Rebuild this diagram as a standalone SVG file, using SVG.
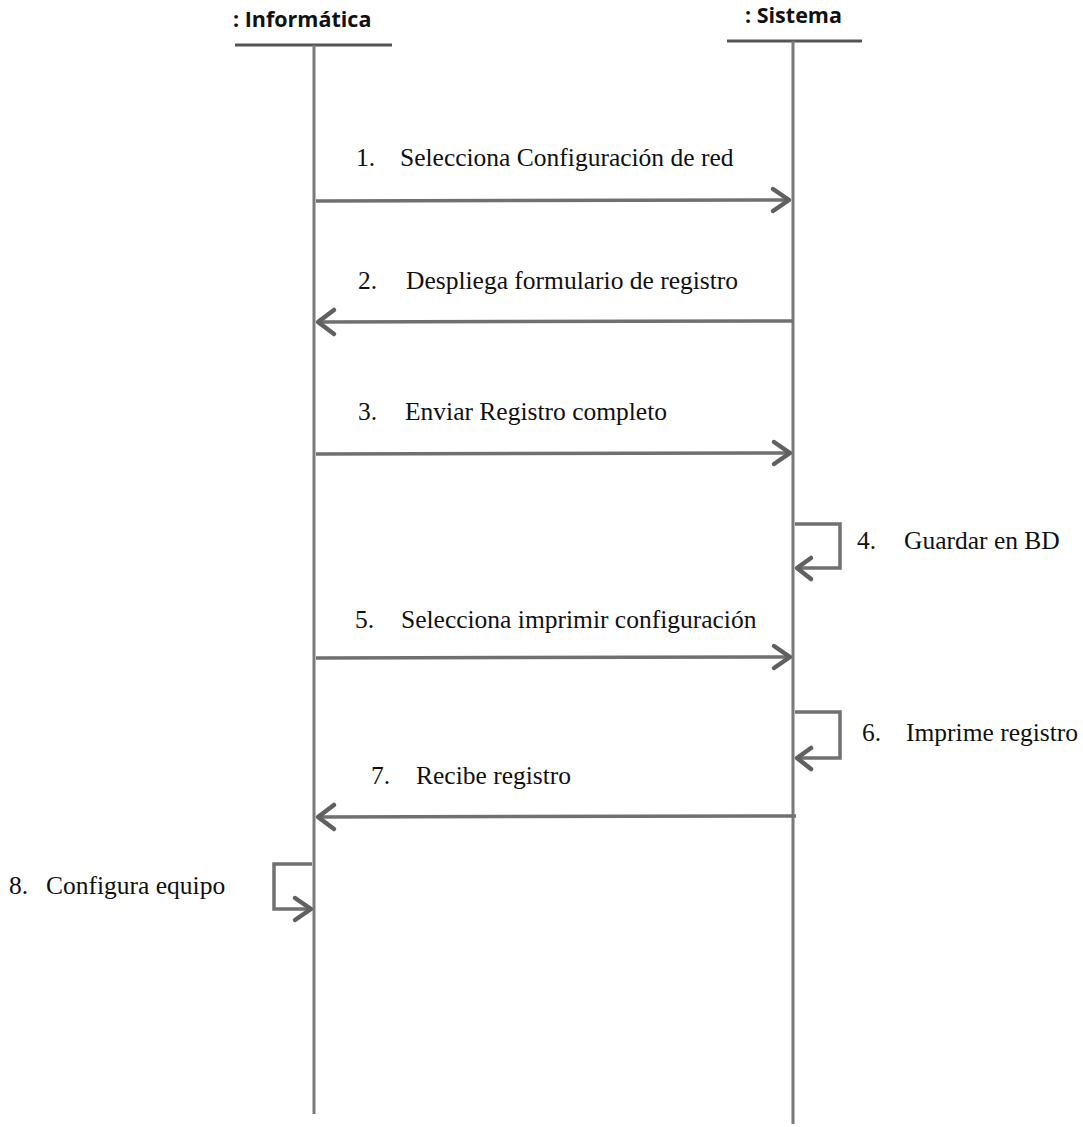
<svg xmlns="http://www.w3.org/2000/svg" width="1083" height="1127" viewBox="0 0 1083 1127">
<defs>
<style>
.ll{stroke:#7a7a7a;stroke-width:3;fill:none}
.bar{stroke:#555;stroke-width:3}
.msg{stroke:#707070;stroke-width:3.5;fill:none}
.hd{stroke:#606060;stroke-width:4.5;fill:none;stroke-linecap:round;stroke-linejoin:round}
.t{font-family:"Liberation Serif","Times New Roman",serif;font-size:25.5px;fill:#111}
.h{font-family:"Open Sans","Liberation Sans",sans-serif;font-size:21.5px;font-weight:bold;fill:#111}
</style>
</defs>
<rect width="1083" height="1127" fill="#fff"/>
<g id="informatica">
<text class="h" x="233" y="27">: Informática</text>
<line class="bar" x1="235" y1="45" x2="392" y2="45"/>
<line class="ll" x1="314" y1="45" x2="314" y2="1114"/>
</g>
<g id="sistema">
<text class="h" x="745" y="23">: Sistema</text>
<line class="bar" x1="727" y1="41" x2="862" y2="41"/>
<line class="ll" x1="793" y1="41" x2="793" y2="1124"/>
</g>
<g id="connectors">
<g id="m1"><line class="msg" x1="316" y1="201" x2="789" y2="200"/><polyline class="hd" points="773,189 789,200 773,211"/></g>
<g id="m2"><line class="msg" x1="793" y1="321" x2="318" y2="322"/><polyline class="hd" points="334,310 318,322 334,334"/></g>
<g id="m3"><line class="msg" x1="316" y1="454" x2="790" y2="453"/><polyline class="hd" points="774,442 790,453 774,464"/></g>
<g id="m4"><polyline class="msg" points="795,524 840,524 840,568 797,568"/><polyline class="hd" points="811,558 797,568 811,579"/></g>
<g id="m5"><line class="msg" x1="316" y1="658" x2="790" y2="657"/><polyline class="hd" points="774,646 790,657 774,668"/></g>
<g id="m6"><polyline class="msg" points="795,712 840,712 840,758 797,758"/><polyline class="hd" points="811,748 797,758 811,769"/></g>
<g id="m7"><line class="msg" x1="796" y1="816" x2="318" y2="817"/><polyline class="hd" points="334,805 318,817 334,829"/></g>
<g id="m8"><polyline class="msg" points="312,864 274,864 274,909 310,909"/><polyline class="hd" points="295,898 311,909 295,920"/></g>
</g>
<g id="labels">
<text class="t" x="356" y="166">1.</text><text class="t" x="400" y="166">Selecciona Configuración de red</text>
<text class="t" x="358" y="289">2.</text><text class="t" x="406" y="289">Despliega formulario de registro</text>
<text class="t" x="358" y="420">3.</text><text class="t" x="405" y="420">Enviar Registro completo</text>
<text class="t" x="857" y="549">4.</text><text class="t" x="904" y="549">Guardar en BD</text>
<text class="t" x="355" y="628">5.</text><text class="t" x="401" y="628">Selecciona imprimir configuración</text>
<text class="t" x="862" y="741">6.</text><text class="t" x="906" y="741">Imprime registro</text>
<text class="t" x="371" y="784">7.</text><text class="t" x="416" y="784">Recibe registro</text>
<text class="t" x="9" y="894">8.</text><text class="t" x="46" y="894">Configura equipo</text>
</g>
</svg>
